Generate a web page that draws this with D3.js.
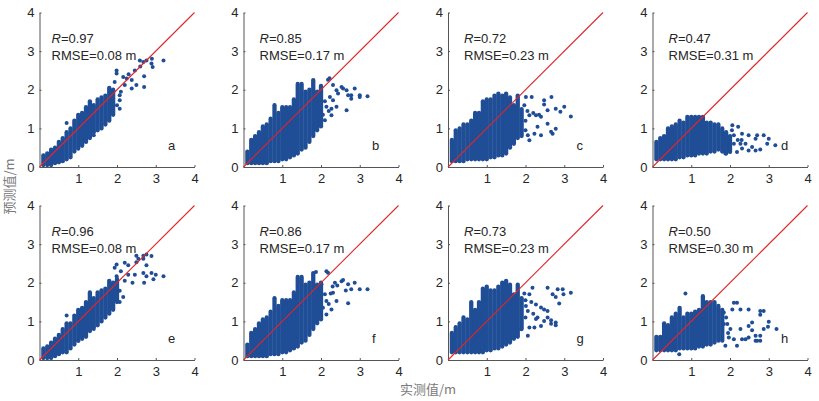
<!DOCTYPE html>
<html>
<head>
<meta charset="utf-8">
<script src="https://cdn.jsdelivr.net/npm/d3@7"></script>
<style>
body{margin:0;background:#fff;}
svg{display:block;font-family:Arial,"Liberation Sans",sans-serif;}
</style>
</head>
<body>
<svg id="fig" width="819" height="401"></svg>
<script>
// panel texts
const letters=['a','b','c','d','e','f','g','h'];
const rVals=['0.97','0.85','0.72','0.47','0.96','0.86','0.73','0.50'];
const rmseVals=['0.08','0.17','0.23','0.31','0.08','0.17','0.23','0.30'];
const yTicks=[0,1,2,3,4];
const xTicks=[1,2,3,4];

// dense part: [measured x, lowest predicted, highest predicted] per 0.1 m column
const colsA=[[0.1,0.05,0.3],[0.2,0.05,0.35],[0.3,0.05,0.45],[0.4,0.1,0.5],[0.5,0.12,0.65],[0.6,0.15,0.75],[0.7,0.2,0.9],[0.8,0.25,1.0],[0.9,0.4,1.2],[1.0,0.5,1.35],[1.1,0.55,1.4],[1.2,0.65,1.55],[1.3,0.75,1.7],[1.4,0.9,1.6],[1.5,0.95,1.75],[1.6,1.0,1.8],[1.7,1.1,1.85],[1.8,1.2,2.05],[1.9,1.35,2.0]];
const colsB=[[0.1,0.1,0.4],[0.2,0.1,0.7],[0.3,0.1,0.8],[0.4,0.1,0.9],[0.5,0.1,1.05],[0.6,0.1,1.1],[0.7,0.15,1.25],[0.8,0.15,1.6],[0.9,0.15,1.4],[1.0,0.2,1.55],[1.1,0.2,1.55],[1.2,0.25,1.55],[1.3,0.3,1.75],[1.4,0.35,2.15],[1.5,0.45,2.15],[1.6,0.5,1.95],[1.7,0.65,2.0],[1.8,0.8,2.25],[1.9,0.95,1.95],[2.0,1.05,2.1]];
const colsC=[[0.1,0.15,0.7],[0.2,0.15,0.95],[0.3,0.15,1.0],[0.4,0.15,1.1],[0.5,0.2,1.1],[0.6,0.2,1.2],[0.7,0.2,1.4],[0.8,0.2,1.4],[0.9,0.2,1.7],[1.0,0.2,1.75],[1.1,0.25,1.75],[1.2,0.25,1.85],[1.3,0.3,1.9],[1.4,0.3,1.85],[1.5,0.35,1.9],[1.6,0.5,1.8],[1.7,0.6,1.6],[1.8,0.75,1.85],[1.9,0.8,1.5]];
const colsD=[[0.1,0.2,0.65],[0.2,0.2,0.75],[0.3,0.2,0.8],[0.4,0.2,1.0],[0.5,0.2,1.05],[0.6,0.2,1.1],[0.7,0.25,1.2],[0.8,0.25,1.15],[0.9,0.3,1.3],[1.0,0.3,1.3],[1.1,0.3,1.3],[1.2,0.35,1.3],[1.3,0.35,1.3],[1.4,0.35,1.15],[1.5,0.4,1.15],[1.6,0.4,1.1],[1.7,0.45,1.1],[1.8,0.4,1.0],[1.9,0.35,0.9],[2.0,0.4,0.8]];
const colsE=[[0.1,0.05,0.3],[0.2,0.05,0.35],[0.3,0.05,0.45],[0.4,0.1,0.55],[0.5,0.15,0.65],[0.6,0.2,0.8],[0.7,0.2,0.95],[0.8,0.3,0.95],[0.9,0.4,1.15],[1.0,0.5,1.3],[1.1,0.55,1.35],[1.2,0.6,1.5],[1.3,0.75,1.75],[1.4,0.85,1.6],[1.5,0.9,1.75],[1.6,1.0,1.8],[1.7,1.1,1.85],[1.8,1.2,2.05],[1.9,1.3,2.0],[2.0,1.5,2.1]];
const colsF=[[0.1,0.1,0.4],[0.2,0.1,0.7],[0.3,0.1,0.8],[0.4,0.1,0.95],[0.5,0.1,1.05],[0.6,0.1,1.1],[0.7,0.15,1.25],[0.8,0.15,1.6],[0.9,0.15,1.4],[1.0,0.2,1.55],[1.1,0.2,1.55],[1.2,0.25,1.55],[1.3,0.3,1.75],[1.4,0.35,2.15],[1.5,0.45,2.15],[1.6,0.5,1.95],[1.7,0.65,2.0],[1.8,0.8,2.25],[1.9,0.95,1.95],[2.0,1.05,2.0]];
const colsG=[[0.1,0.2,0.7],[0.2,0.2,0.85],[0.3,0.2,0.95],[0.4,0.2,1.1],[0.5,0.2,1.05],[0.6,0.2,1.5],[0.7,0.2,1.3],[0.8,0.2,1.5],[0.9,0.2,1.85],[1.0,0.25,1.9],[1.1,0.25,1.8],[1.2,0.3,1.8],[1.3,0.3,1.9],[1.4,0.35,2.0],[1.5,0.4,2.05],[1.6,0.45,1.95],[1.7,0.55,1.7],[1.8,0.6,1.95],[1.9,0.8,1.6]];
const colsH=[[0.1,0.25,0.6],[0.2,0.25,0.6],[0.3,0.25,0.95],[0.4,0.25,0.9],[0.5,0.25,1.1],[0.6,0.25,1.2],[0.7,0.3,1.35],[0.8,0.3,1.1],[0.9,0.3,1.2],[1.0,0.3,1.2],[1.1,0.3,1.25],[1.2,0.35,1.3],[1.3,0.35,1.65],[1.4,0.4,1.5],[1.5,0.4,1.5],[1.6,0.45,1.5],[1.7,0.5,1.4],[1.8,0.5,1.3]];

// scattered points outside the dense cloud: [measured, predicted]
const ptsA=[[0.7,1.14],[1.0,0.47],[1.4,0.82],[1.99,2.5],[1.99,2.42],[1.94,2.2],[1.9,1.99],[2.07,1.73],[2.07,1.51],[2.07,1.86],[2.16,2.33],[2.2,2.12],[2.25,2.29],[2.38,2.03],[2.38,2.25],[2.46,2.5],[2.5,2.12],[2.59,2.76],[2.68,2.72],[2.7,2.35],[2.7,2.07],[2.76,2.76],[2.89,2.68],[2.92,2.59],[2.9,2.8],[3.2,2.76],[2.0,1.6],[2.1,1.95],[2.3,2.4],[2.6,2.6]];
const ptsB=[[2.31,2.12],[2.18,2.26],[2.22,2.3],[2.4,1.99],[2.53,2.07],[2.57,2.03],[2.66,1.99],[2.87,2.03],[2.7,1.86],[2.78,1.77],[3.0,1.81],[3.2,1.83],[2.66,1.47],[2.4,1.56],[2.27,1.34],[2.1,1.21],[1.88,0.99],[1.84,1.04],[1.97,1.21],[2.31,1.73],[2.44,1.9],[2.14,1.56],[2.27,1.51],[2.78,1.86],[3.0,1.86],[2.23,1.81],[2.0,1.94],[2.1,1.7],[2.2,1.45],[2.05,1.35]];
const ptsC=[[2.06,0.82],[2.1,0.69],[2.23,0.86],[2.4,0.82],[2.66,0.91],[2.78,0.99],[2.7,0.86],[2.31,1.04],[2.4,1.3],[2.57,1.12],[2.78,1.51],[3.0,1.56],[3.17,1.31],[2.9,1.43],[2.67,1.81],[2.48,1.73],[2.16,1.81],[2.01,1.81],[1.97,1.6],[2.1,1.34],[2.27,1.34],[2.57,1.47],[2.0,1.2],[2.05,1.45],[2.2,1.4],[2.35,1.35],[2.48,1.62],[2.0,0.95]];
const ptsD=[[1.88,0.35],[2.0,0.39],[2.18,0.39],[2.31,0.48],[2.48,0.43],[2.66,0.43],[2.78,0.45],[2.57,0.52],[2.48,0.82],[2.7,0.82],[2.87,0.82],[3.0,0.73],[2.96,0.6],[3.17,0.56],[2.31,0.86],[2.27,0.6],[2.1,0.82],[2.06,1.08],[2.21,1.04],[2.4,0.6],[2.66,0.73],[2.1,0.6],[2.2,0.7],[2.05,0.95],[2.3,0.7]];
const ptsE=[[0.7,1.15],[1.0,0.5],[1.4,0.8],[2.07,1.5],[2.16,1.63],[1.99,2.47],[1.94,2.39],[2.2,2.52],[2.29,2.45],[2.29,2.21],[2.4,2.0],[2.5,2.53],[2.5,2.7],[2.68,2.7],[2.76,2.73],[2.89,2.69],[2.68,2.25],[2.7,2.0],[2.76,2.17],[2.89,2.25],[3.0,2.21],[2.94,2.09],[3.2,2.17],[2.55,2.62],[2.68,2.62],[2.76,2.45],[2.46,2.21],[2.07,1.79],[1.99,2.17],[1.9,1.96],[2.1,2.3],[2.2,2.05]];
const ptsF=[[1.87,2.28],[2.18,2.26],[2.14,2.3],[2.36,2.0],[2.42,1.93],[2.53,2.04],[2.57,2.07],[2.7,1.96],[2.87,2.0],[2.78,1.83],[3.0,1.83],[3.2,1.83],[2.7,1.47],[2.4,1.53],[2.27,1.31],[2.14,1.18],[1.88,1.01],[2.31,1.74],[2.14,1.53],[2.64,1.8],[2.25,1.72],[2.01,1.96],[2.1,1.7],[2.2,1.45],[2.05,1.35],[1.97,1.2],[2.3,1.9]];
const ptsG=[[1.97,1.72],[2.1,1.7],[2.18,1.87],[2.01,1.4],[2.06,1.27],[2.27,1.44],[2.4,1.36],[2.48,1.31],[2.57,1.27],[2.31,1.1],[2.27,1.06],[2.48,1.01],[2.57,1.1],[2.4,0.88],[2.23,0.84],[2.1,0.84],[1.88,0.8],[2.06,0.63],[2.66,0.94],[2.78,0.97],[2.78,0.9],[2.57,1.87],[2.7,1.7],[2.83,1.83],[2.96,1.83],[2.98,1.7],[3.17,1.74],[2.78,1.63],[2.87,1.46],[2.66,1.03],[2.0,1.55],[2.15,1.5],[2.0,1.1],[2.2,1.2]];
const ptsH=[[0.85,1.72],[0.69,0.15],[1.88,0.37],[2.18,0.37],[1.97,0.58],[2.1,0.54],[2.01,0.8],[1.84,0.93],[1.93,0.93],[1.84,1.23],[2.06,1.31],[2.1,1.48],[2.18,1.48],[2.27,1.31],[2.48,1.31],[2.27,0.8],[2.31,0.54],[2.4,0.54],[2.48,0.88],[2.57,0.97],[2.57,0.77],[2.66,0.63],[2.7,0.5],[2.78,0.5],[2.78,0.63],[2.78,1.27],[2.87,1.27],[2.78,1.17],[2.87,0.8],[3.0,0.99],[2.98,0.86],[3.2,0.8],[2.66,0.5],[2.48,0.58],[1.9,1.1],[1.95,0.7]];

const allCols=[colsA,colsB,colsC,colsD,colsE,colsF,colsG,colsH];
const allPts=[ptsA,ptsB,ptsC,ptsD,ptsE,ptsF,ptsG,ptsH];

const svg=d3.select('#fig');
const lefts=[39.5,243.5,448,652.5], tops=[12.5,205.5];
const W=155, H=154.5;
const dotColor='#1f4d96', txt='#262626';

const x=d3.scaleLinear().domain([0,4]).range([0,W]);
const y=d3.scaleLinear().domain([0,4]).range([H,0]);
const fmt=d3.format('d');

letters.forEach((lt,i)=>{
    let g=svg.append('g').attr('transform','translate('+lefts[i%4]+','+tops[Math.floor(i/4)]+')');

    let ax=g.append('g').attr('transform','translate(0,'+H+')')
        .call(d3.axisBottom(x).tickValues(xTicks).tickFormat(fmt).tickSizeInner(-2).tickSizeOuter(0).tickPadding(7));
    let ay=g.append('g')
        .call(d3.axisLeft(y).tickValues(yTicks).tickFormat(fmt).tickSizeInner(-2).tickSizeOuter(0).tickPadding(5));
    [ax,ay].forEach(a=>{
        a.selectAll('path,line').attr('stroke','#555');
        a.selectAll('text').attr('fill',txt).style('font-size','13px').style('font-family','Arial,"Liberation Sans",sans-serif');
    });

    // dense columns of points
    g.selectAll('line.col').data(allCols[i]).join('line').attr('class','col')
        .attr('x1',d=>x(d[0])).attr('x2',d=>x(d[0]))
        .attr('y1',d=>y(d[1])).attr('y2',d=>y(d[2]))
        .attr('stroke',dotColor).attr('stroke-width',4.3).attr('stroke-linecap','round');
    g.selectAll('circle').data(allPts[i]).join('circle')
        .attr('cx',d=>x(d[0])).attr('cy',d=>y(d[1])).attr('r',2).attr('fill',dotColor);

    // 1:1 line
    g.append('line').attr('class','diag').attr('x1',x(0)).attr('y1',y(0)).attr('x2',x(4)).attr('y2',y(4))
        .attr('stroke','#e0262b').attr('stroke-width',1.1);

    let tx=(i%4==0)?12:16;
    let t=g.append('text').attr('x',tx).attr('y',30.5).attr('fill',txt).style('font-size','13px');
    t.append('tspan').style('font-style','italic').text('R');
    t.append('tspan').text('='+rVals[i]);
    g.append('text').attr('x',tx).attr('y',47).attr('fill',txt).style('font-size','13px').text('RMSE='+rmseVals[i]+' m');
    g.append('text').attr('x',128.5).attr('y',137.5).attr('fill',txt).style('font-size','13px').text(lt);
});

svg.append('text').attr('transform','translate(14,186.5) rotate(-90)').attr('text-anchor','middle')
    .attr('fill','#7a7a7a').style('font-size','13px').style('font-family','"Noto Sans CJK SC",sans-serif').text('预测值/m');
svg.append('text').attr('x',428).attr('y',394).attr('text-anchor','middle')
    .attr('fill','#7a7a7a').style('font-size','13px').style('font-family','"Noto Sans CJK SC",sans-serif').text('实测值/m');
</script>
</body>
</html>
